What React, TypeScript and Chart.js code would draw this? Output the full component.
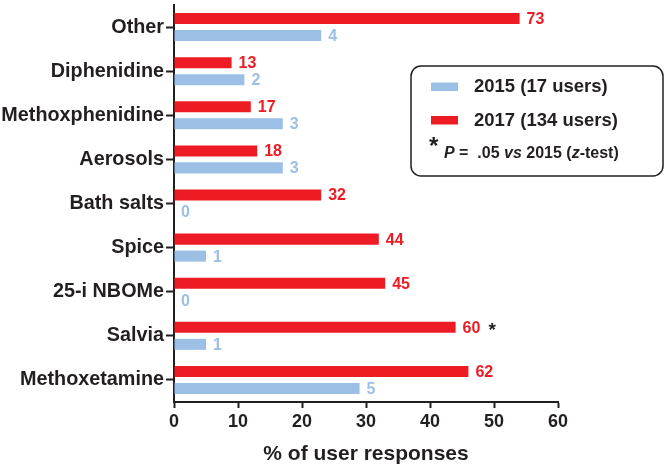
import React, { useEffect, useRef } from 'react';
import { Chart, registerables } from 'chart.js';

Chart.register(...registerables);

const categories = ['Other', 'Diphenidine', 'Methoxphenidine', 'Aerosols', 'Bath salts', 'Spice', '25-i NBOMe', 'Salvia', 'Methoxetamine'];
const pct2017 = [54, 9, 12, 13, 23, 32, 33, 44, 46];
const pct2015 = [23, 11, 17, 17, 0, 5, 0, 5, 29];
const count2017 = [73, 13, 17, 18, 32, 44, 45, 60, 62];
const count2015 = [4, 2, 3, 3, 0, 1, 0, 1, 5];
const significance = ['', '', '', '', '', '', '', '*', ''];
const xTicks = [0, 10, 20, 30, 40, 50, 60];

const RED = '#ED1C24';
const BLUE = '#9BBFE5';
const INK = '#231F20';
const FONT = '"Liberation Sans", Arial, Helvetica, sans-serif';

const valueLabels = {
  id: 'valueLabels',
  afterDatasetsDraw(chart: any) {
    const ctx = chart.ctx;
    ctx.save();
    ctx.textBaseline = 'middle';
    ctx.textAlign = 'left';
    const sets = [
      { counts: count2017, color: RED },
      { counts: count2015, color: BLUE },
    ];
    sets.forEach((s, di) => {
      const meta = chart.getDatasetMeta(di);
      meta.data.forEach((bar: any, i: number) => {
        ctx.font = `bold 16px ${FONT}`;
        ctx.fillStyle = s.color;
        const txt = String(s.counts[i]);
        const x = bar.x + 7;
        ctx.fillText(txt, x, bar.y + 1);
        if (di === 0 && significance[i]) {
          const w = ctx.measureText(txt).width;
          ctx.fillStyle = INK;
          ctx.font = `bold 19px ${FONT}`;
          ctx.fillText(significance[i], x + w + 8, bar.y + 3);
        }
      });
    });
    ctx.restore();
  },
};

const legendBox = {
  id: 'legendBox',
  afterDraw(chart: any) {
    const ctx = chart.ctx;
    ctx.save();
    const x = 411, y = 66, w = 252, h = 110, r = 10;
    ctx.beginPath();
    ctx.moveTo(x + r, y);
    ctx.lineTo(x + w - r, y);
    ctx.arcTo(x + w, y, x + w, y + r, r);
    ctx.lineTo(x + w, y + h - r);
    ctx.arcTo(x + w, y + h, x + w - r, y + h, r);
    ctx.lineTo(x + r, y + h);
    ctx.arcTo(x, y + h, x, y + h - r, r);
    ctx.lineTo(x, y + r);
    ctx.arcTo(x, y, x + r, y, r);
    ctx.closePath();
    ctx.fillStyle = '#ffffff';
    ctx.fill();
    ctx.lineWidth = 1.5;
    ctx.strokeStyle = INK;
    ctx.stroke();

    ctx.fillStyle = BLUE;
    ctx.fillRect(431, 82.5, 27, 8.5);
    ctx.fillStyle = RED;
    ctx.fillRect(431, 116, 27, 8.5);

    ctx.fillStyle = INK;
    ctx.textBaseline = 'middle';
    ctx.textAlign = 'left';
    ctx.font = `bold 18.5px ${FONT}`;
    ctx.fillText('2015 (17 users)', 474, 87);
    ctx.fillText('2017 (134 users)', 474, 120.5);

    ctx.font = `bold 24px ${FONT}`;
    ctx.fillText('*', 429, 147);

    const parts: [string, boolean][] = [
      ['P', true], [' =  .05 ', false], ['vs', true], [' 2015 (', false], ['z', true], ['-test)', false],
    ];
    let px = 444;
    parts.forEach(([t, it]) => {
      ctx.font = `${it ? 'italic ' : ''}bold 16px ${FONT}`;
      ctx.fillText(t, px, 154);
      px += ctx.measureText(t).width;
    });
    ctx.restore();
  },
};

export default function App() {
  const ref = useRef<HTMLCanvasElement>(null);
  useEffect(() => {
    const chart = new Chart(ref.current as HTMLCanvasElement, {
      type: 'bar',
      data: {
        labels: categories,
        datasets: [
          {
            label: '2017 (134 users)',
            data: pct2017,
            backgroundColor: RED,
            barPercentage: 0.65,
            categoryPercentage: 0.77,
          },
          {
            label: '2015 (17 users)',
            data: pct2015,
            backgroundColor: BLUE,
            barPercentage: 0.65,
            categoryPercentage: 0.77,
          },
        ],
      },
      options: {
        indexAxis: 'y',
        responsive: false,
        animation: false,
        layout: { padding: { top: 5, right: 107, left: 0, bottom: 0 } },
        plugins: {
          legend: { display: false },
          tooltip: { enabled: false },
        },
        scales: {
          x: {
            type: 'linear',
            min: 0,
            max: 60,
            afterFit: (s: any) => { s.height = 68; },
            afterBuildTicks: (s: any) => { s.ticks = xTicks.map((v) => ({ value: v })); },
            border: { display: true, color: INK, width: 2 },
            grid: { display: true, drawOnChartArea: false, drawTicks: true, tickLength: 6, tickWidth: 2, tickColor: INK, color: INK },
            ticks: { color: INK, padding: 3, font: { family: FONT, size: 18, weight: 'bold' } },
            title: {
              display: true,
              text: '% of user responses',
              color: INK,
              font: { family: FONT, size: 21, weight: 'bold' },
              padding: { top: 0, bottom: 3 },
            },
          },
          y: {
            type: 'category',
            afterFit: (s: any) => { s.width = 174; s.paddingTop = 0; s.paddingBottom = 0; },
            border: { display: true, color: INK, width: 2 },
            grid: { display: true, offset: false, drawOnChartArea: false, drawTicks: true, tickLength: 8, tickWidth: 2, tickColor: INK, color: INK },
            ticks: { color: INK, padding: 2, autoSkip: false, font: { family: FONT, size: 19.8, weight: 'bold' } },
          },
        },
      },
      plugins: [valueLabels, legendBox],
    } as any);
    return () => chart.destroy();
  }, []);
  return (
    <div style={{ position: 'absolute', left: 0, top: 0, width: 665, height: 470, background: '#fff' }}>
      <canvas ref={ref} width={665} height={470} />
    </div>
  );
}
